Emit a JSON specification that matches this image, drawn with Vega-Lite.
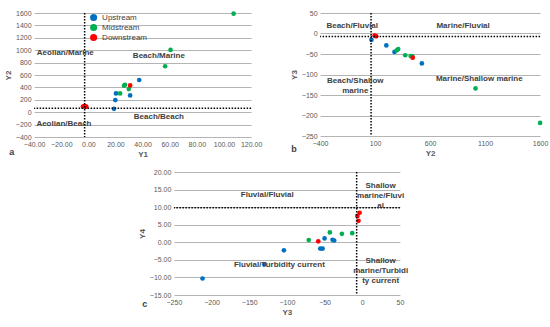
{
  "$schema": "https://vega.github.io/schema/vega-lite/v6.json",
  "padding": {"left": 4, "top": 9, "right": 4, "bottom": 2},
  "datasets": {
    "a": [
      {"x": 20.4, "y": 303, "g": "Upstream"},
      {"x": 19.9, "y": 195, "g": "Upstream"},
      {"x": 18.9, "y": 54, "g": "Upstream"},
      {"x": 30.8, "y": 270, "g": "Upstream"},
      {"x": 37.5, "y": 519, "g": "Upstream"},
      {"x": 26.3, "y": 427, "g": "Midstream"},
      {"x": 27.0, "y": 443, "g": "Midstream"},
      {"x": 23.4, "y": 303, "g": "Midstream"},
      {"x": 29.8, "y": 373, "g": "Midstream"},
      {"x": 56.6, "y": 741, "g": "Midstream"},
      {"x": 60.6, "y": 1005, "g": "Midstream"},
      {"x": 107.1, "y": 1589, "g": "Midstream"},
      {"x": 30.8, "y": 432, "g": "Downstream"},
      {"x": -4.0, "y": 90, "g": "Downstream"},
      {"x": -3.0, "y": 100, "g": "Downstream"},
      {"x": -2.0, "y": 95, "g": "Downstream"},
      {"x": -1.5, "y": 88, "g": "Downstream"}
    ],
    "b": [
      {"x": 67, "y": -15.5, "g": "Upstream"},
      {"x": 202, "y": -29, "g": "Upstream"},
      {"x": 276, "y": -45, "g": "Upstream"},
      {"x": 525, "y": -73, "g": "Upstream"},
      {"x": 297, "y": -41, "g": "Midstream"},
      {"x": 310, "y": -38, "g": "Midstream"},
      {"x": 374, "y": -53, "g": "Midstream"},
      {"x": 423, "y": -55, "g": "Midstream"},
      {"x": 439, "y": -56, "g": "Midstream"},
      {"x": 1013, "y": -134, "g": "Midstream"},
      {"x": 1600, "y": -218, "g": "Midstream"},
      {"x": 95, "y": -5, "g": "Downstream"},
      {"x": 102, "y": -6, "g": "Downstream"},
      {"x": 110, "y": -7, "g": "Downstream"},
      {"x": 442, "y": -59, "g": "Downstream"}
    ],
    "c": [
      {"x": -212, "y": -10.3, "g": "Upstream"},
      {"x": -130, "y": -6.3, "g": "Upstream"},
      {"x": -104, "y": -2.3, "g": "Upstream"},
      {"x": -55.7, "y": -1.8, "g": "Upstream"},
      {"x": -52.6, "y": -1.8, "g": "Upstream"},
      {"x": -50, "y": 1.1, "g": "Upstream"},
      {"x": -39.4, "y": 0.7, "g": "Upstream"},
      {"x": -37.2, "y": 0.5, "g": "Upstream"},
      {"x": -71, "y": 0.64, "g": "Midstream"},
      {"x": -43, "y": 2.8, "g": "Midstream"},
      {"x": -27, "y": 2.4, "g": "Midstream"},
      {"x": -13.3, "y": 2.6, "g": "Midstream"},
      {"x": -58.4, "y": 0.26, "g": "Downstream"},
      {"x": -6.4, "y": 7.5, "g": "Downstream"},
      {"x": -5, "y": 6.1, "g": "Downstream"},
      {"x": -3.5, "y": 8.4, "g": "Downstream"}
    ],
    "la": [
      {"x": -17, "y": 960, "t": "Aeolian/Marine"},
      {"x": 52, "y": 905, "t": "Beach/Marine"},
      {"x": 52, "y": -70, "t": "Beach/Beach"},
      {"x": -18, "y": -190, "t": "Aeolian/Beach"}
    ],
    "lb": [
      {"x": -108, "y": 19, "t": "Beach/Fluvial"},
      {"x": 900, "y": 19, "t": "Marine/Fluvial"},
      {"x": -80, "y": -116, "t": "Beach/Shallow\nmarine"},
      {"x": 1047, "y": -110, "t": "Marine/Shallow marine"}
    ],
    "lc": [
      {"x": -126, "y": 13.5, "t": "Fluvial/Fluvial"},
      {"x": 24.4, "y": 16, "t": "Shallow\nmarine/Fluvi\nal"},
      {"x": -110, "y": -6.5, "t": "Fluvial/Turbidity current"},
      {"x": 24.4, "y": -5.3, "t": "Shallow\nmarine/Turbidi\nty current"}
    ],
    "ta": [{"vx": -2.7411, "vy": 63.365}],
    "tb": [{"vx": 63.365, "vy": -7.419}],
    "tc": [{"vx": -7.419, "vy": 9.8433}]
  },
  "config": {
    "font": "Liberation Sans",
    "view": {"stroke": null},
    "axis": {
      "labelFontSize": 7,
      "titleFontSize": 8,
      "titleFontWeight": "bold",
      "gridColor": "#b4b4b4",
      "gridWidth": 1,
      "labelColor": "#595959",
      "titleColor": "#595959",
      "domain": false,
      "ticks": false,
      "labelPadding": 3,
      "titlePadding": 3,
      "labelOverlap": false,
      "labelFlush": false,
      "tickCount": 30
    },
    "title": {"fontSize": 9, "fontWeight": "bold", "color": "#404040"}
  },
  "center": true,
  "spacing": 10,
  "resolve": {"scale": {"color": "independent"}, "legend": {"color": "independent"}},
  "vconcat": [
    {
      "hconcat": [
        {
          "width": 217,
          "height": 124,
          "title": {"text": "a", "orient": "bottom", "anchor": "start", "frame": "bounds", "offset": -10, "dx": 5},
          "layer": [
            {
              "data": {"name": "a"},
              "mark": {"type": "circle", "size": 22, "opacity": 1},
              "encoding": {
                "x": {"field": "x", "type": "quantitative", "scale": {"domain": [-40, 120], "nice": false}, "axis": {"values": [-40, -20, 0, 20, 40, 60, 80, 100, 120], "tickCount": 30, "format": ".2f", "title": "Y1", "grid": false, "labelOverlap": false, "labelFlush": false}},
                "y": {"field": "y", "type": "quantitative", "scale": {"domain": [-400, 1600], "nice": false}, "axis": {"values": [-400, -200, 0, 200, 400, 600, 800, 1000, 1200, 1400, 1600], "tickCount": 30, "format": "d", "title": "Y2", "grid": true, "labelOverlap": false, "labelFlush": false}},
                "color": {"field": "g", "type": "nominal", "scale": {"domain": ["Upstream", "Midstream", "Downstream"], "range": ["#0070C0", "#00B050", "#FF0000"]},
                  "legend": {"orient": "none", "legendX": 55, "legendY": 0, "title": null, "symbolSize": 50, "symbolType": "circle", "labelFontSize": 8, "labelColor": "#404040", "rowPadding": 1}}
              }
            },
            {"data": {"name": "ta"}, "mark": {"type": "rule", "strokeDash": [1.5, 1.5], "strokeWidth": 1.5, "color": "black"}, "encoding": {"x": {"field": "vx", "type": "quantitative"}}},
            {"data": {"name": "ta"}, "mark": {"type": "rule", "strokeDash": [1.5, 1.5], "strokeWidth": 1.5, "color": "black"}, "encoding": {"y": {"field": "vy", "type": "quantitative"}}},
            {
              "data": {"name": "la"},
              "mark": {"type": "text", "fontWeight": "bold", "fontSize": 8, "color": "#404040", "lineBreak": "\n"},
              "encoding": {"x": {"field": "x", "type": "quantitative"}, "y": {"field": "y", "type": "quantitative"}, "text": {"field": "t"}}
            }
          ]
        },
        {
          "width": 220,
          "height": 123,
          "title": {"text": "b", "orient": "bottom", "anchor": "start", "frame": "bounds", "offset": -12, "dx": 1},
          "layer": [
            {
              "data": {"name": "b"},
              "mark": {"type": "circle", "size": 22, "opacity": 1},
              "encoding": {
                "x": {"field": "x", "type": "quantitative", "scale": {"domain": [-400, 1600], "nice": false}, "axis": {"values": [-400, 100, 600, 1100, 1600], "tickCount": 30, "format": "d", "title": "Y2", "grid": false, "labelOverlap": false, "labelFlush": false}},
                "y": {"field": "y", "type": "quantitative", "scale": {"domain": [-250, 50], "nice": false}, "axis": {"values": [-250, -200, -150, -100, -50, 0, 50], "tickCount": 30, "format": "d", "title": "Y3", "grid": true, "labelOverlap": false, "labelFlush": false}},
                "color": {"field": "g", "type": "nominal", "scale": {"domain": ["Upstream", "Midstream", "Downstream"], "range": ["#0070C0", "#00B050", "#FF0000"]}, "legend": null}
              }
            },
            {"data": {"name": "tb"}, "mark": {"type": "rule", "strokeDash": [1.5, 1.5], "strokeWidth": 1.5, "color": "black"}, "encoding": {"x": {"field": "vx", "type": "quantitative"}}},
            {"data": {"name": "tb"}, "mark": {"type": "rule", "strokeDash": [1.5, 1.5], "strokeWidth": 1.5, "color": "black"}, "encoding": {"y": {"field": "vy", "type": "quantitative"}}},
            {
              "data": {"name": "lb"},
              "mark": {"type": "text", "fontWeight": "bold", "fontSize": 8, "color": "#404040", "lineBreak": "\n"},
              "encoding": {"x": {"field": "x", "type": "quantitative"}, "y": {"field": "y", "type": "quantitative"}, "text": {"field": "t"}}
            }
          ]
        }
      ],
      "spacing": 28,
      "resolve": {"scale": {"color": "independent"}, "legend": {"color": "independent"}}
    },
    {
      "width": 226,
      "height": 123,
      "title": {"text": "c", "orient": "bottom", "anchor": "start", "frame": "bounds", "offset": -16, "dx": 4},
      "layer": [
        {
          "data": {"name": "c"},
          "mark": {"type": "circle", "size": 22, "opacity": 1},
          "encoding": {
            "x": {"field": "x", "type": "quantitative", "scale": {"domain": [-250, 50], "nice": false}, "axis": {"values": [-250, -200, -150, -100, -50, 0, 50], "tickCount": 30, "format": "d", "title": "Y3", "grid": false, "labelOverlap": false, "labelFlush": false}},
            "y": {"field": "y", "type": "quantitative", "scale": {"domain": [-15, 20], "nice": false}, "axis": {"values": [-15, -10, -5, 0, 5, 10, 15, 20], "tickCount": 30, "format": ".2f", "title": "Y4", "grid": true, "labelOverlap": false, "labelFlush": false}},
            "color": {"field": "g", "type": "nominal", "scale": {"domain": ["Upstream", "Midstream", "Downstream"], "range": ["#0070C0", "#00B050", "#FF0000"]}, "legend": null}
          }
        },
        {"data": {"name": "tc"}, "mark": {"type": "rule", "strokeDash": [1.5, 1.5], "strokeWidth": 1.5, "color": "black"}, "encoding": {"x": {"field": "vx", "type": "quantitative"}}},
        {"data": {"name": "tc"}, "mark": {"type": "rule", "strokeDash": [1.5, 1.5], "strokeWidth": 1.5, "color": "black"}, "encoding": {"y": {"field": "vy", "type": "quantitative"}}},
        {
          "data": {"name": "lc"},
          "mark": {"type": "text", "fontWeight": "bold", "fontSize": 8, "color": "#404040", "lineBreak": "\n"},
          "encoding": {"x": {"field": "x", "type": "quantitative"}, "y": {"field": "y", "type": "quantitative"}, "text": {"field": "t"}}
        }
      ]
    }
  ]
}
